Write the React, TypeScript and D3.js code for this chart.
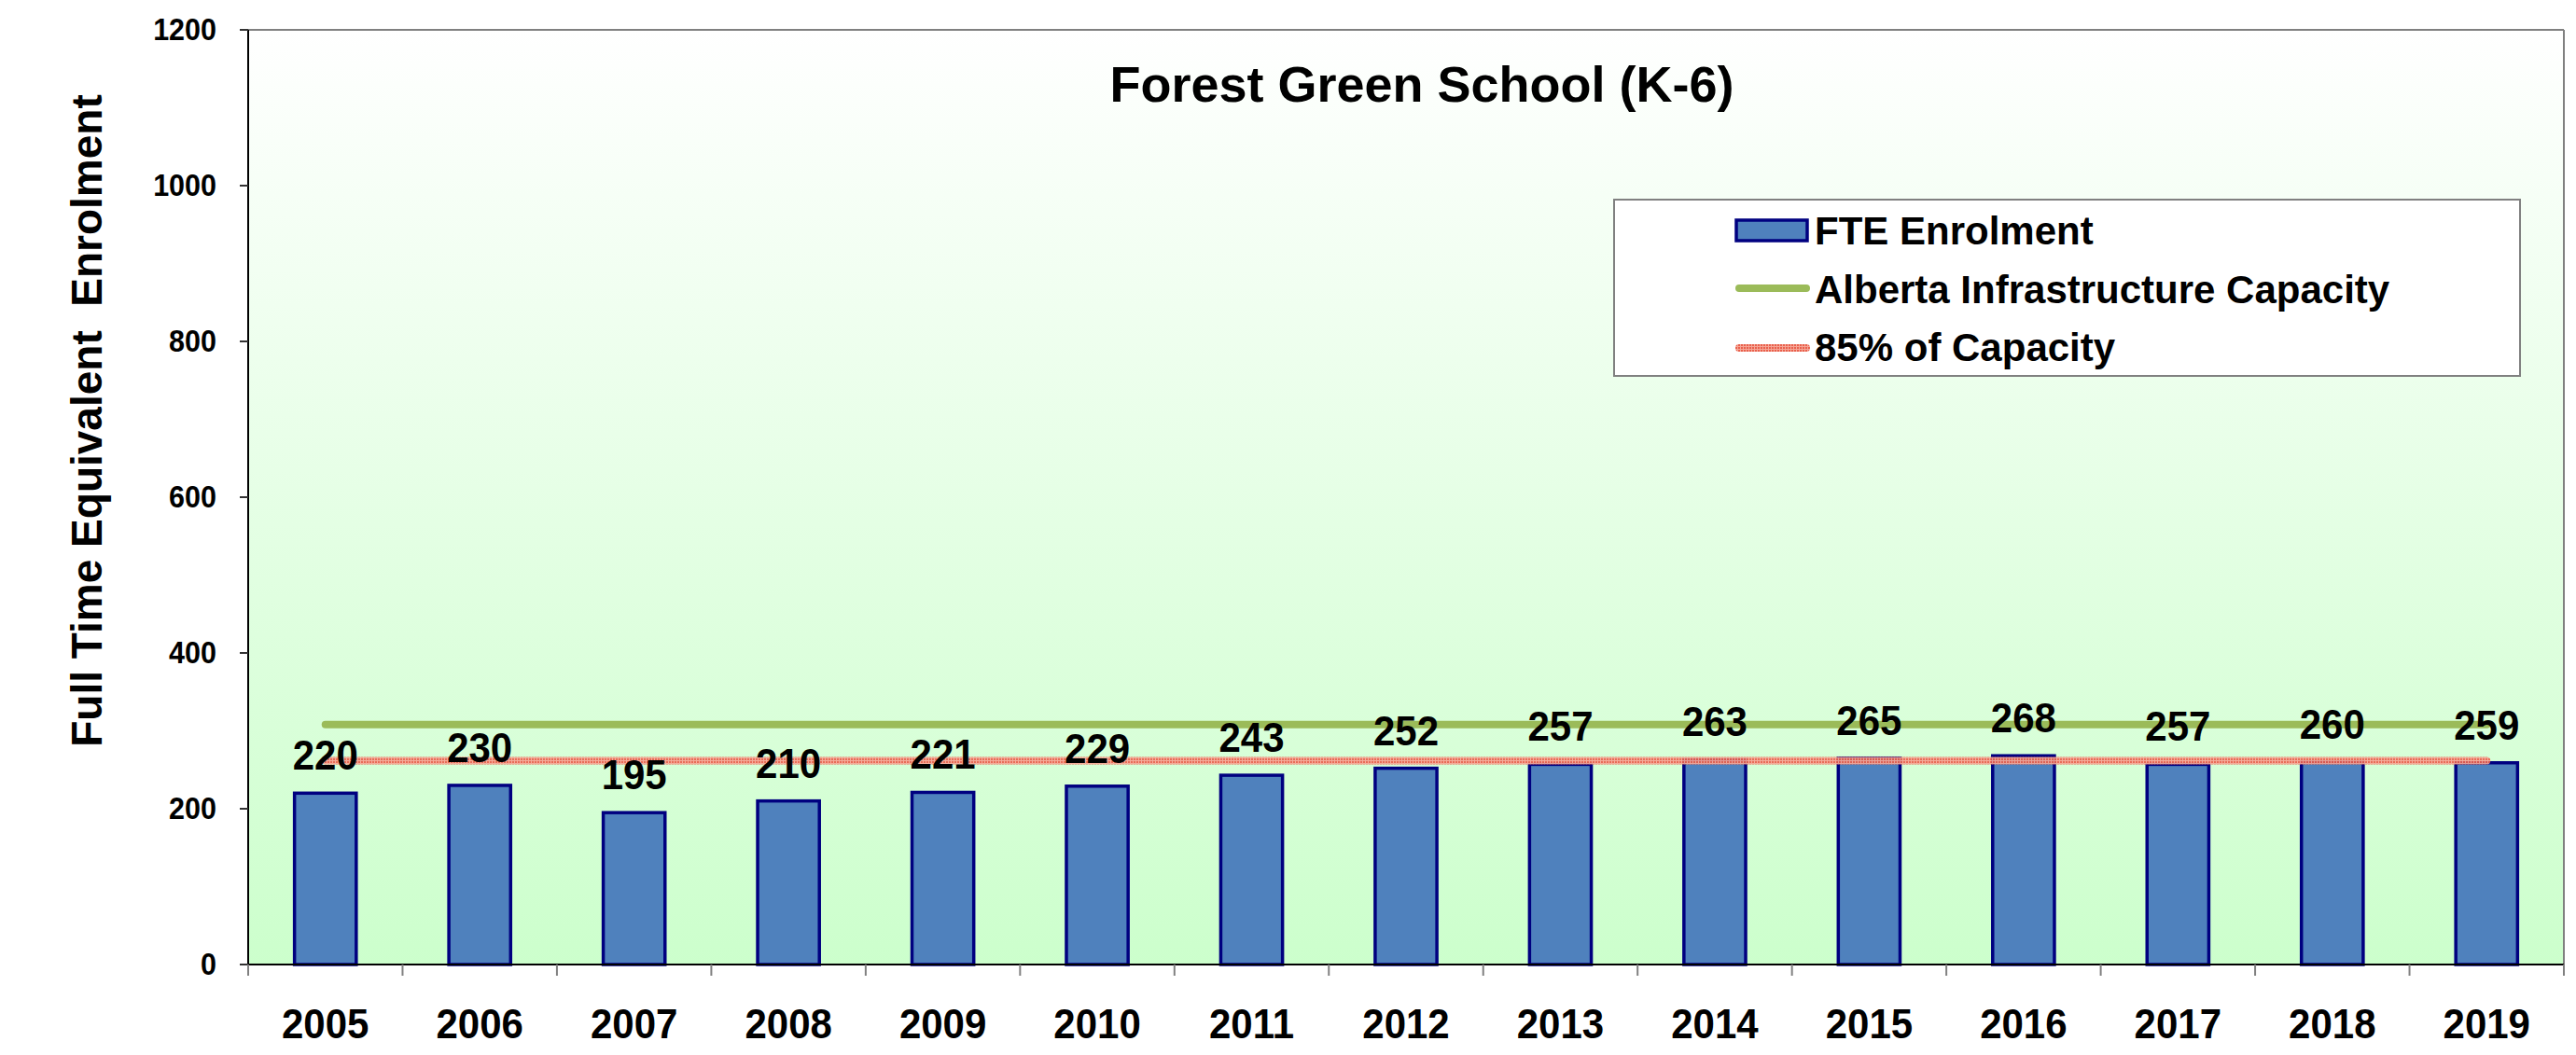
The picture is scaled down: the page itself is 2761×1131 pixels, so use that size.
import React from "react";
import * as d3 from "d3";

const years = ["2005","2006","2007","2008","2009","2010","2011","2012","2013","2014","2015","2016","2017","2018","2019"];
const enrolment = [220,230,195,210,221,229,243,252,257,263,265,268,257,260,259];
const capacity = [308,308,308,308,308,308,308,308,308,308,308,308,308,308,308];
const capacity85 = capacity.map((c) => c * 0.85);
const yTicks = [0,200,400,600,800,1000,1200];
const titleText = "Forest Green School (K-6)";
const yTitle = "Full Time Equivalent  Enrolment";
const legendLabels = ["FTE Enrolment", "Alberta Infrastructure Capacity", "85% of Capacity"];

const W = 2761, H = 1131;
const L = 266, R = 2748, T = 32, B = 1034;
const FONT = "'Liberation Sans', Arial, Helvetica, sans-serif";

function T2({ x, y, sy = 1.07, size, anchor = "middle", children, dy }: any) {
  return (
    <text transform={`translate(${x},${y}) scale(1,${sy})`} dy={dy} textAnchor={anchor} fontSize={size} fontWeight="bold">
      {children}
    </text>
  );
}

export default function App() {
  const x = d3.scaleBand<string>().domain(years).range([L, R]).paddingInner(0).paddingOuter(0);
  const y = d3.scaleLinear().domain([0, 1200]).range([B, T]);
  const bw = x.bandwidth() * 0.4;
  const cx = (d: string) => (x(d) as number) + x.bandwidth() / 2;

  const line = d3.line<number>().x((_, i) => cx(years[i])).y((v) => y(v));
  const edges = years.map((d) => x(d) as number).concat([R]);

  return (
    <svg width={W} height={H} style={{ position: "absolute", left: 0, top: 0, background: "#fff" }} fontFamily={FONT}>
      <defs>
        <linearGradient id="bg" x1="0" y1="0" x2="0" y2="1">
          <stop offset="0" stopColor="#FFFFFF" />
          <stop offset="1" stopColor="#CCFFCC" />
        </linearGradient>
        <pattern id="redpat" patternUnits="userSpaceOnUse" width="3" height="3">
          <rect width="3" height="3" fill="#F5A595" />
          <rect width="2" height="2" fill="#E9604C" />
        </pattern>
      </defs>
      <rect x={L} y={T} width={R - L} height={B - T} fill="url(#bg)" />
      <line x1={L} x2={R} y1={T} y2={T} stroke="#808080" strokeWidth={2} />
      <line x1={R} x2={R} y1={T} y2={B} stroke="#808080" strokeWidth={2} />

      {enrolment.map((v, i) => (
        <rect key={years[i]} x={cx(years[i]) - bw / 2} y={y(v)} width={bw} height={B - y(v)}
          fill="#4F81BD" stroke="#000080" strokeWidth={3.5} />
      ))}

      <path d={line(capacity) || ""} fill="none" stroke="#9BBB59" strokeWidth={8} strokeLinecap="round" />
      <path d={line(capacity85) || ""} fill="none" stroke="url(#redpat)" strokeOpacity={0.92} strokeWidth={8} strokeLinecap="round" />

      <line x1={L} x2={L} y1={T} y2={B} stroke="#000" strokeWidth={2} />
      <line x1={L} x2={R} y1={B} y2={B} stroke="#000" strokeWidth={2} />
      {yTicks.map((t) => (
        <g key={t}>
          <line x1={L - 9} x2={L} y1={y(t)} y2={y(t)} stroke="#333" strokeWidth={2} />
          <T2 x={L - 34} y={y(t) + 11} size={30.5} anchor="end">{t}</T2>
        </g>
      ))}
      {edges.map((e, i) => (
        <line key={i} x1={e} x2={e} y1={B} y2={B + 12} stroke="#808080" strokeWidth={2} />
      ))}
      {years.map((d) => (
        <T2 key={d} x={cx(d)} y={1113} size={42}>{d}</T2>
      ))}

      {enrolment.map((v, i) => (
        <T2 key={"l" + i} x={cx(years[i])} y={y(v) - 25} size={42}>{v}</T2>
      ))}

      <text x={1524} y={109} textAnchor="middle" fontSize={54} fontWeight="bold">{titleText}</text>
      <text transform={`translate(109,451) rotate(-90)`} textAnchor="middle" fontSize={46} fontWeight="bold" style={{ whiteSpace: "pre" }}>{yTitle}</text>

      <rect x={1730} y={214} width={971} height={189} fill="#fff" stroke="#808080" strokeWidth={2} />
      <rect x={1861} y={236} width={76} height={22} fill="#4F81BD" stroke="#000080" strokeWidth={3.5} />
      <line x1={1864} x2={1936} y1={309} y2={309} stroke="#9BBB59" strokeWidth={8} strokeLinecap="round" />
      <line x1={1864} x2={1936} y1={373} y2={373} stroke="url(#redpat)" strokeWidth={8} strokeLinecap="round" />
      {legendLabels.map((s, i) => (
        <T2 key={s} x={1945} y={262 + i * 62.5} size={42} anchor="start" sy={1.0}>{s}</T2>
      ))}
    </svg>
  );
}
